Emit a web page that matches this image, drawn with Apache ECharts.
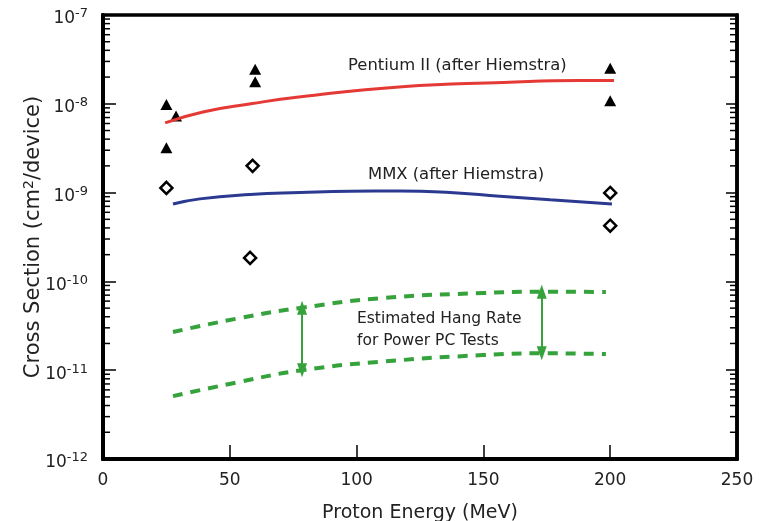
<!DOCTYPE html>
<html>
<head>
<meta charset="utf-8">
<script src="https://cdn.jsdelivr.net/npm/echarts@6/dist/echarts.min.js"></script>
<style>
  html, body { margin: 0; padding: 0; background: #fff; }
  #chart { width: 760px; height: 521px; }
</style>
</head>
<body>
<div id="chart"></div>
<script>
// measured points (MeV, cm^2/device)
const pentiumX = [25, 28.8, 25, 60, 60, 200, 200];
const pentiumY = [9.8e-9, 7.3e-9, 3.2e-9, 2.45e-8, 1.77e-8, 2.51e-8, 1.08e-8];
const mmxX = [25, 59, 58, 200, 200];
const mmxY = [1.13e-9, 2.0e-9, 1.84e-10, 9.9e-10, 4.24e-10];

// fitted curves
const pentiumFitX = [24.5, 39.4, 58.3, 78, 118, 158, 188, 201.5];
const pentiumFitY = [6.1e-9, 8.1e-9, 1.0e-8, 1.2e-8, 1.56e-8, 1.74e-8, 1.83e-8, 1.83e-8];
const mmxFitX = [27.6, 38.2, 58, 77.7, 97.4, 117.1, 136.8, 156.5, 176.3, 200.7];
const mmxFitY = [7.44e-10, 8.5e-10, 9.5e-10, 1.0e-9, 1.035e-9, 1.04e-9, 1.0e-9, 9.1e-10, 8.3e-10, 7.44e-10];

// estimated hang rate band
const hangX = [27.6, 54, 78.5, 110.4, 149.8, 173, 198.3];
const hangUpper = [2.69e-11, 3.87e-11, 5.06e-11, 6.5e-11, 7.4e-11, 7.65e-11, 7.6e-11];
const hangLower = [5.1e-12, 7.4e-12, 1.0e-11, 1.25e-11, 1.48e-11, 1.55e-11, 1.52e-11];

const arrowX = [78.5, 173];
const arrowTop = [5.06e-11, 7.65e-11];
const arrowBottom = [1.0e-11, 1.55e-11];

const decades = [-12, -11, -10, -9, -8];
const minorSteps = [2, 3, 4, 5, 6, 7, 8, 9];

const zip = (xs, ys) => xs.map((x, i) => [x, ys[i]]);

// minor log ticks on left (side 0) and right (side 1)
const minorTicks = [];
[0, 1].forEach(side => {
  decades.forEach(d => {
    minorSteps.forEach(k => minorTicks.push([side, k * Math.pow(10, d)]));
  });
});

const green = '#35a23c';
const textColor = '#222';
const font = 'DejaVu Sans';

const chart = echarts.init(document.getElementById('chart'));

const option = {
  animation: false,
  grid: {
    left: 103, right: 23, top: 15, bottom: 62,
    outerBoundsMode: 'none',
    show: true, borderColor: '#000', borderWidth: 3.5, backgroundColor: 'transparent'
  },
  xAxis: {
    type: 'value', min: 0, max: 250, interval: 50,
    name: 'Proton Energy (MeV)', nameLocation: 'middle', nameGap: 45, nameMoveOverlap: false,
    nameTextStyle: { fontFamily: font, fontSize: 19, color: textColor },
    axisLine: { lineStyle: { color: '#000', width: 4 } },
    axisTick: { inside: true, length: 14, lineStyle: { color: '#000', width: 1.5 } },
    axisLabel: { margin: 13, fontFamily: font, fontSize: 17, color: textColor },
    splitLine: { show: false }
  },
  yAxis: [{
    type: 'log', logBase: 10, min: 1e-12, max: 1e-7, interval: 1, splitNumber: 5,
    name: '{n|Cross Section (cm}{s|2}{n|/device)}', nameLocation: 'middle', nameGap: 58,
    nameMoveOverlap: false, nameRotate: 90,
    nameTextStyle: {
      rich: {
        n: { fontFamily: font, fontSize: 21, color: textColor },
        s: { fontFamily: font, fontSize: 14, color: textColor, padding: [0, 0, 9, 0] }
      }
    },
    axisLine: { lineStyle: { color: '#000', width: 4 } },
    axisTick: { inside: true, length: 13, lineStyle: { color: '#000', width: 1.5 } },
    axisLabel: {
      margin: 15,
      formatter: v => '{b|10}{s|' + Math.round(Math.log10(v)) + '}',
      rich: {
        b: { fontFamily: font, fontSize: 17, color: textColor, padding: [8, 0, 0, 0] },
        s: { fontFamily: font, fontSize: 13, color: textColor, padding: [0, 0, 2, 0] }
      }
    },
    splitLine: { show: false }
  }, {
    type: 'log', logBase: 10, min: 1e-12, max: 1e-7, interval: 1, splitNumber: 5, position: 'right',
    axisLine: { show: true, lineStyle: { color: '#000', width: 3.5 } },
    axisTick: { show: true, inside: true, length: 11, lineStyle: { color: '#000', width: 1.5 } },
    axisLabel: { show: false },
    splitLine: { show: false }
  }],
  series: [
    {
      type: 'line', data: zip(hangX, hangUpper), smooth: true, showSymbol: false,
      lineStyle: { color: green, width: 4, type: [10, 8] },
      markLine: {
        silent: true, symbol: ['triangle', 'triangle'], symbolSize: [10, 14],
        label: { show: false },
        lineStyle: { color: green, width: 2, type: 'solid' },
        data: arrowX.map((x, i) => [{ coord: [x, arrowTop[i]] }, { coord: [x, arrowBottom[i]] }])
      }
    },
    {
      type: 'line', data: zip(hangX, hangLower), smooth: true, showSymbol: false,
      lineStyle: { color: green, width: 4, type: [10, 8] }
    },
    {
      type: 'line', data: zip(pentiumFitX, pentiumFitY), smooth: true, showSymbol: false,
      lineStyle: { color: '#e53935', width: 3 }
    },
    {
      type: 'line', data: zip(mmxFitX, mmxFitY), smooth: true, showSymbol: false,
      lineStyle: { color: '#2b3a90', width: 3 }
    },
    {
      type: 'scatter', data: zip(pentiumX, pentiumY), symbol: 'triangle', symbolSize: [12, 11],
      itemStyle: { color: '#000', opacity: 1 }
    },
    {
      type: 'scatter', data: zip(mmxX, mmxY), symbol: 'diamond', symbolSize: 12,
      itemStyle: { color: '#fff', borderColor: '#000', borderWidth: 2.5, opacity: 1 }
    },
    {
      type: 'custom', data: minorTicks, silent: true,
      renderItem: (params, api) => {
        const side = api.value(0);
        const p = api.coord([side === 0 ? 0 : 250, api.value(1)]);
        const len = 7;
        return {
          type: 'line',
          shape: { x1: p[0], y1: p[1], x2: p[0] + (side === 0 ? len : -len), y2: p[1] },
          style: { stroke: '#000', lineWidth: 1.5 }
        };
      }
    }
  ],
  graphic: [
    { type: 'text', left: 348, top: 58, style: { text: 'Pentium II (after Hiemstra)', font: '16.4px "DejaVu Sans"', fill: textColor } },
    { type: 'text', left: 368, top: 167, style: { text: 'MMX (after Hiemstra)', font: '16.4px "DejaVu Sans"', fill: textColor } },
    { type: 'text', left: 357, top: 308, style: { text: 'Estimated Hang Rate\nfor Power PC Tests', font: '15.5px "DejaVu Sans"', lineHeight: 22, fill: textColor } }
  ]
};

chart.setOption(option);
</script>
</body>
</html>
